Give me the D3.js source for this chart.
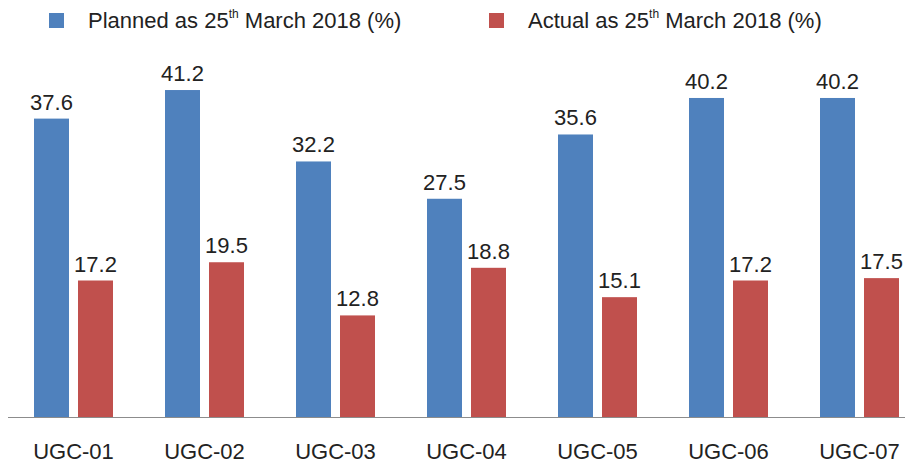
<!DOCTYPE html>
<html>
<head>
<meta charset="utf-8">
<script src="https://cdn.jsdelivr.net/npm/d3@7"></script>
<style>
  body { margin: 0; background: #fff; }
  svg { font-family: "Liberation Sans", Arial, sans-serif; }
</style>
</head>
<body>
<svg id="chart" width="914" height="465"></svg>
<script>
// 数据
const categories = ["UGC-01", "UGC-02", "UGC-03", "UGC-04", "UGC-05", "UGC-06", "UGC-07"];
const planned = [37.6, 41.2, 32.2, 27.5, 35.6, 40.2, 40.2];
const actual = [17.2, 19.5, 12.8, 18.8, 15.1, 17.2, 17.5];
const seriesNames = ["Planned", "Actual"];
const colors = ["#4F81BD", "#C0504D"];

const svg = d3.select("#chart");
const baseY = 417;

// 比例尺
const x = d3.scaleBand().domain(categories).range([8, 925]).padding(0);
const barW = 35, gap = 9;
const y = d3.scaleLinear().domain([0, 50]).range([baseY, baseY - 396.8]);

const rows = categories.map((c, i) => ({ cat: c, values: [planned[i], actual[i]] }));

const group = svg.append("g")
    .selectAll("g")
    .data(rows)
    .enter().append("g")
    .attr("transform", d => `translate(${x(d.cat) + x.bandwidth() / 2 - barW - gap / 2},0)`);

// 柱子
group.selectAll("rect")
    .data(d => d.values)
    .enter().append("rect")
    .attr("x", (d, j) => j * (barW + gap))
    .attr("y", d => y(d))
    .attr("width", barW)
    .attr("height", d => baseY - y(d))
    .attr("fill", (d, j) => colors[j]);

// 数值标签
group.selectAll("text")
    .data(d => d.values)
    .enter().append("text")
    .attr("x", (d, j) => j * (barW + gap) + barW / 2)
    .attr("y", d => y(d) - 9)
    .attr("text-anchor", "middle")
    .attr("font-size", 22)
    .attr("fill", "#222")
    .text(d => d.toFixed(1));

// 横轴
svg.append("line")
    .attr("x1", 8).attr("x2", 905)
    .attr("y1", baseY + 0.5).attr("y2", baseY + 0.5)
    .attr("stroke", "#8c8c8c")
    .attr("stroke-width", 1);

svg.append("g")
    .selectAll("text")
    .data(categories)
    .enter().append("text")
    .attr("x", d => x(d) + x.bandwidth() / 2)
    .attr("y", 459)
    .attr("text-anchor", "middle")
    .attr("font-size", 22)
    .attr("fill", "#222")
    .text(d => d);

// 图例
const legendX = [49, 489];
const legend = svg.append("g")
    .selectAll("g")
    .data(seriesNames)
    .enter().append("g")
    .attr("transform", (d, i) => `translate(${legendX[i]},0)`);

legend.append("rect")
    .attr("x", 0).attr("y", 13)
    .attr("width", 15).attr("height", 15)
    .attr("fill", (d, i) => colors[i]);

const lt = legend.append("text")
    .attr("x", 39)
    .attr("y", 28)
    .attr("font-size", 22)
    .attr("fill", "#222");
lt.append("tspan").text(d => `${d} as 25`);
lt.append("tspan").attr("font-size", 12).attr("dy", -10).text("th");
lt.append("tspan").attr("dy", 10).text(" March 2018 (%)");
</script>
</body>
</html>
